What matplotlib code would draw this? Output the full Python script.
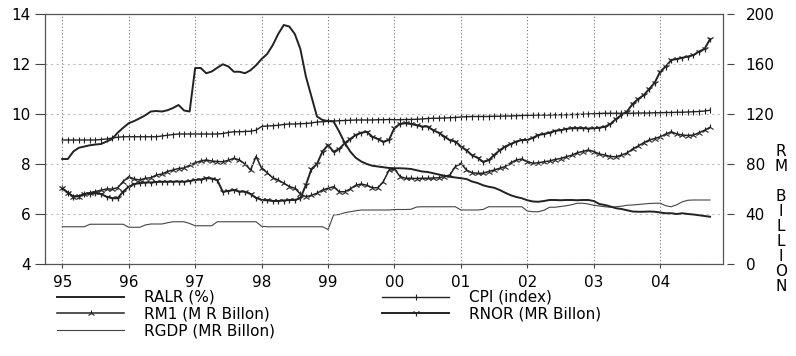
import numpy as np
import matplotlib
matplotlib.use("Agg")
import matplotlib.pyplot as plt

plt.rcParams['font.family'] = ['DejaVu Sans']

# monthly data, Jan 1995 - Oct 2004
ralr = [8.2, 8.2, 8.5, 8.65, 8.7, 8.75, 8.78, 8.8, 8.9, 9.0, 9.25, 9.45,
        9.63, 9.72, 9.83, 9.95, 10.1, 10.12, 10.1, 10.15, 10.24, 10.36, 10.14, 10.1,
        11.84, 11.84, 11.63, 11.7, 11.85, 11.99, 11.9, 11.69, 11.69, 11.63, 11.75, 11.95,
        12.2, 12.4, 12.75, 13.2, 13.56, 13.5, 13.2, 12.6, 11.5, 10.7, 9.9, 9.76,
        9.72, 9.7, 9.3, 8.85, 8.5, 8.25, 8.1, 8.0, 7.93, 7.9, 7.87, 7.84,
        7.83, 7.83, 7.82, 7.8, 7.75, 7.7, 7.68, 7.63, 7.58, 7.53, 7.49, 7.46,
        7.43, 7.4, 7.3, 7.24, 7.15, 7.09, 7.05, 6.96, 6.85, 6.75, 6.68, 6.63,
        6.55, 6.5, 6.49, 6.52, 6.56, 6.56, 6.55, 6.56, 6.56, 6.55, 6.56, 6.56,
        6.52, 6.4, 6.36, 6.3, 6.23, 6.2, 6.15, 6.1, 6.09, 6.09, 6.1, 6.09,
        6.06, 6.03, 6.03, 6.0, 6.03, 6.0, 5.98, 5.95, 5.92, 5.89]

cpi = [99.2, 99.2, 99.2, 99.2, 99.2, 99.2, 99.2, 99.6, 100, 100.8, 101.4, 101.8,
       101.8, 101.8, 101.8, 101.8, 101.8, 101.8, 102.4, 103, 103.6, 104, 104, 104,
       104, 104, 104, 104, 104, 104.4, 105.2, 105.8, 105.8, 106, 106.2, 107,
       110, 110.4, 110.6, 111, 111.6, 112, 112, 112.2, 112.4, 112.8, 113.6, 113.8,
       114.2, 114.4, 114.6, 114.8, 115, 115.2, 115.2, 115.2, 115.2, 115.4, 115.4, 115.6,
       115.4, 115.4, 115.6, 115.6, 115.8, 116, 116.4, 116.6, 116.6, 116.8, 117, 117.2,
       117.6, 117.8, 118, 118, 118, 118, 118.2, 118.2, 118.4, 118.4, 118.6, 118.8,
       119, 119, 119.2, 119.2, 119.2, 119.4, 119.4, 119.4, 119.6, 119.6, 119.8, 120,
       120.2, 120.4, 120.6, 120.6, 120.6, 120.6, 120.6, 120.6, 120.8, 120.8, 120.8, 121,
       121, 121.2, 121.2, 121.4, 121.4, 121.6, 121.8, 122, 122.4, 123]

rm1 = [60.6, 57, 54, 54, 56, 57, 58, 59, 60, 60, 61, 66,
       69.8, 68, 67.2, 68.6, 69, 71.2, 72, 74, 75.2, 76.4, 76.8, 79,
       81, 82.4, 83.2, 82.4, 82, 81.8, 83, 84.6, 83.2, 80, 75.2, 86,
       76.6, 73, 69, 67.2, 64.6, 62, 60.6, 56, 53.8, 55, 56.6, 59.2,
       60.6, 61.8, 57.8, 57.8, 60, 63, 64, 63, 61, 61, 66, 75,
       76, 70, 68.6, 68.6, 68.4, 68.6, 68.6, 68.8, 69, 70, 71.2, 78,
       80.6, 75.2, 73, 72.6, 72.6, 74, 75.2, 76.6, 78, 81, 83.2, 84,
       82, 80.6, 81, 81.8, 82.4, 83.6, 84.4, 85.8, 87, 89, 90, 91.2,
       90, 88, 87.2, 86, 85.8, 87.2, 88.8, 92, 94.4, 97, 99.2, 100.4,
       101.8, 104, 105.8, 104, 103.2, 102.8, 103.2, 105, 107, 109.4]

rnor = [60.6, 57, 54, 54.4, 56, 56.4, 56.6, 56, 53.8, 52.6, 52.6, 58,
        61.8, 64, 64.6, 65.2, 65.2, 65.6, 65.8, 65.8, 65.8, 66, 65.8, 66.4,
        67.2, 67.6, 68.6, 68.4, 67, 57.8, 58.4, 59.2, 58, 57.8, 56, 53,
        51.2, 51, 50.4, 50.4, 50.8, 51.2, 51.2, 52.6, 63.2, 76, 80, 90,
        95.2, 89.8, 92, 96.6, 100, 103.2, 105, 105.8, 101.8, 100, 97.8, 99.2,
        109, 112, 112.6, 112, 111, 110, 110, 107, 105, 102, 99, 98,
        94, 91, 87, 85, 81.8, 83, 87.2, 91, 94, 96, 98, 99.2,
        99.2, 101, 103.2, 104, 105, 106.6, 107, 108, 108.6, 108.6, 108.6, 108.4,
        108.6, 109, 109.8, 112, 116, 119.2, 122, 128, 132, 135, 140, 145,
        154, 158, 163.2, 164, 165, 166, 167.2, 170, 172, 180]

rgdp = [29.8, 29.8, 29.8, 29.8, 29.8, 31.8, 31.8, 31.8, 31.8, 31.8, 31.8, 31.8,
        29.4, 29.4, 29.4, 31.2, 32, 32, 32, 33, 33.8, 33.8, 33.8, 32.4,
        30.6, 30.6, 30.6, 30.6, 33.8, 33.8, 33.8, 33.8, 33.8, 33.8, 33.8, 33.8,
        30.2, 29.8, 29.8, 29.8, 29.8, 29.8, 29.8, 29.8, 29.8, 29.8, 29.8, 29.8,
        27.6, 39.2, 39.6, 41, 41.8, 42.6, 43.2, 43.2, 43.2, 43.2, 43.2, 43.2,
        43.6, 43.6, 43.6, 43.8, 45.6, 45.8, 45.8, 45.8, 45.8, 45.8, 45.8, 45.8,
        43.2, 43.2, 43.2, 43.2, 43.6, 45.8, 45.8, 45.8, 45.8, 45.8, 45.8, 45.8,
        42.4, 41.8, 41.8, 43, 45.4, 45.4, 46, 46.6, 47.4, 48.6, 48.6, 48,
        47, 46.4, 45.8, 45.4, 45.8, 46.2, 47, 47.2, 47.6, 48, 48.4, 48.6,
        48.6, 46.6, 45.8, 47.4, 49.8, 51, 51.2, 51.2, 51.2, 51.2]

years = [1995, 1996, 1997, 1998, 1999, 2000, 2001, 2002, 2003, 2004]
year_labels = ['95', '96', '97', '98', '99', '00', '01', '02', '03', '04']
left_ticks = [4, 6, 8, 10, 12, 14]
right_ticks = [0, 40, 80, 120, 160, 200]

t = 1995 + np.arange(len(ralr)) / 12.0

fs = 11
fig = plt.figure(figsize=(7.96, 3.56), dpi=100)
ax = fig.add_axes([45/796, 1-264/356, (722.7-45)/796, 250/356])
ax2 = ax.twinx()

ink = '#222222'
l1, = ax.plot(t, ralr, color=ink, lw=1.4, label='RALR (%)')
l2, = ax2.plot(t, cpi, color=ink, lw=1.0, marker='|', ms=4, mew=0.8, label='CPI (index)')
l3, = ax2.plot(t, rm1, color=ink, lw=1.1, marker='2', ms=5, mew=0.8, label='RM1 (M R Billon)')
l4, = ax2.plot(t, rnor, color=ink, lw=1.4, marker='1', ms=5, mew=0.9, label='RNOR (MR Billon)')
l5, = ax2.plot(t, rgdp, color='#444444', lw=0.8, label='RGDP (MR Billon)')

ax.set_xlim(1994.74, 2004.94)
ax.set_ylim(4, 14)
ax2.set_ylim(0, 200)

ax.set_xticks(years)
ax.set_xticklabels(year_labels)
ax.set_yticks(left_ticks)
ax2.set_yticks(right_ticks)

ax.tick_params(axis='x', direction='out', length=3, pad=5, labelsize=fs, color='#444')
ax.tick_params(axis='y', direction='out', length=7, pad=3.5, labelsize=fs, color='#444')
ax.tick_params(axis='y', right=False)

# right scale: ticks stand a little off the frame
ax2.spines['right'].set_position(('outward', 3))
ax2.spines['right'].set_visible(False)
ax2.tick_params(axis='y', direction='out', length=5, pad=8.5, labelsize=fs, color='#444')

for s in ax.spines.values():
    s.set_color('#555555')
    s.set_linewidth(0.9)
for k in ('top', 'bottom', 'left'):
    ax2.spines[k].set_visible(False)

ax.grid(axis='x', color='#777777', linestyle=(0, (1, 2)), lw=0.8)
ax.grid(axis='y', color='#bbbbbb', linestyle=(0, (2, 3)), lw=0.8)
ax.set_zorder(ax2.get_zorder() + 1)
ax.patch.set_visible(False)

fig.text(781/796, 1-144/356, 'R\nM\n\nB\nI\nL\nL\nI\nO\nN', ha='center', va='top',
         fontsize=fs, linespacing=1.0)

fig.legend([l1, l3, l5, l2, l4], [h.get_label() for h in (l1, l3, l5, l2, l4)],
           loc='upper left', bbox_to_anchor=(57/796, 1-290/356), ncol=2,
           frameon=False, fontsize=fs, handlelength=4.4, handletextpad=1.3,
           columnspacing=7.0, labelspacing=0.12, borderpad=0, borderaxespad=0)

fig.savefig('out.png', dpi=100)
